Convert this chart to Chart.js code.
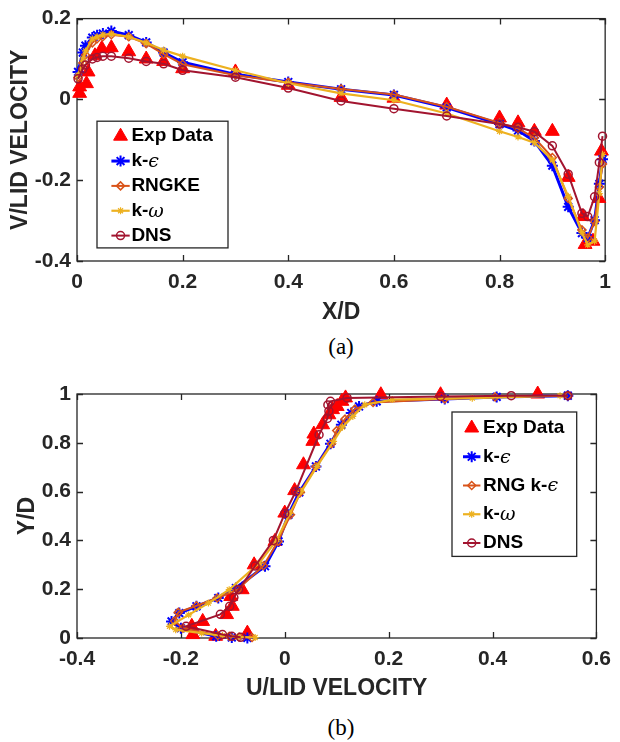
<!DOCTYPE html>
<html>
<head>
<meta charset="utf-8">
<script src="https://cdn.jsdelivr.net/npm/chart.js@4.4.1/dist/chart.umd.min.js"></script>
<style>
  body { margin: 0; background: #fff; width: 620px; height: 742px; position: relative; overflow: hidden; }
  canvas { position: absolute; left: 0; }
  #chartA { top: 0; }
  #chartB { top: 370px; }
  .cap { position: absolute; left: 77px; width: 528px; text-align: center;
         font: 23px 'Liberation Serif', 'Times New Roman', serif; color: #000; }
</style>
</head>
<body>
<canvas id="chartA" width="620" height="330"></canvas>
<div class="cap" style="top:334px">(a)</div>
<canvas id="chartB" width="620" height="335"></canvas>
<div class="cap" style="top:715px">(b)</div>
<script>
// ---- (a) V velocity along horizontal centreline ----
const namesA = ['Exp Data', 'k-ϵ', 'RNGKE', 'k-ω', 'DNS'];
const xModelA = [0.002, 0.011, 0.016, 0.029, 0.038, 0.049, 0.065, 0.098, 0.131, 0.164, 0.2, 0.3, 0.4,
  0.5, 0.6, 0.7, 0.8, 0.835, 0.866, 0.9, 0.93, 0.956, 0.967, 0.98, 0.989, 0.995];
const kepsA = [0.068, 0.116, 0.133, 0.153, 0.159, 0.163, 0.169, 0.159, 0.141, 0.116, 0.092, 0.062, 0.043,
  0.025, 0.011, -0.02, -0.061, -0.077, -0.103, -0.164, -0.266, -0.331, -0.343, -0.299, -0.209, -0.148];
const rngA = [0.055, 0.09, 0.11, 0.14, 0.15, 0.155, 0.16, 0.155, 0.138, 0.112, 0.087, 0.06, 0.042,
  0.026, 0.012, -0.018, -0.058, -0.072, -0.095, -0.144, -0.245, -0.323, -0.343, -0.302, -0.217, -0.16];
const komegaA = [0.06, 0.1, 0.12, 0.15, 0.155, 0.16, 0.162, 0.155, 0.14, 0.122, 0.107, 0.072, 0.04,
  0.015, -0.002, -0.035, -0.079, -0.093, -0.107, -0.15, -0.24, -0.33, -0.36, -0.351, -0.233, -0.136];
const dnsA = [0.051, 0.075, 0.085, 0.1, 0.104, 0.107, 0.107, 0.102, 0.094, 0.088, 0.072, 0.055, 0.028,
  -0.004, -0.023, -0.041, -0.061, -0.069, -0.08, -0.115, -0.185, -0.282, -0.29, -0.241, -0.156, -0.091];
const xExpA = [0.005, 0.005, 0.018, 0.021, 0.034, 0.047, 0.065, 0.098, 0.131, 0.164, 0.2, 0.3, 0.4,
  0.5, 0.6, 0.7, 0.8, 0.835, 0.866, 0.9, 0.93, 0.958, 0.962, 0.977, 0.988, 0.993];
const expA = [0.015, 0.031, 0.039, 0.068, 0.108, 0.126, 0.128, 0.118, 0.1, 0.094, 0.076, 0.068, 0.035,
  0.005, 0.003, -0.014, -0.046, -0.058, -0.079, -0.079, -0.193, -0.29, -0.359, -0.351, -0.245, -0.128];

// ---- (b) U velocity along vertical centreline ----
const namesB = ['Exp Data', 'k-ϵ', 'RNG k-ϵ', 'k-ω', 'DNS'];
const expB_u = [-0.177, -0.133, -0.072, -0.179, -0.158, -0.112, -0.101, -0.104, -0.082, -0.059, -0.019, 0.0,
  0.019, 0.036, 0.054, 0.056, 0.073, 0.085, 0.092, 0.101, 0.11, 0.117, 0.185, 0.3, 0.487];
const expB_y = [0.014, 0.007, 0.02, 0.048, 0.068, 0.096, 0.13, 0.17, 0.198, 0.3, 0.396, 0.512,
  0.604, 0.71, 0.806, 0.836, 0.874, 0.915, 0.936, 0.949, 0.97, 0.984, 0.997, 0.997, 1.0];
const kepsB_u = [-0.072, -0.102, -0.132, -0.2, -0.218, -0.203, -0.17, -0.128, -0.094, -0.038, -0.012, 0.007,
  0.028, 0.06, 0.088, 0.109, 0.128, 0.143, 0.177, 0.308, 0.408, 0.545];
const kepsB_y = [0.0, 0.002, 0.007, 0.04, 0.068, 0.102, 0.13, 0.164, 0.205, 0.294, 0.396, 0.505,
  0.597, 0.703, 0.796, 0.874, 0.922, 0.949, 0.97, 0.98, 0.988, 0.993];
const rngB_u = [-0.063, -0.088, -0.107, -0.129, -0.196, -0.212, -0.205, -0.17, -0.13, -0.09, -0.041, -0.013,
  0.011, 0.03, 0.06, 0.09, 0.1, 0.116, 0.135, 0.17, 0.308, 0.405, 0.545];
const rngB_y = [0.002, 0.004, 0.007, 0.01, 0.04, 0.07, 0.105, 0.132, 0.164, 0.2, 0.296, 0.396,
  0.505, 0.597, 0.703, 0.796, 0.85, 0.897, 0.938, 0.965, 0.98, 0.988, 0.993];
const komegaB_u = [-0.057, -0.09, -0.12, -0.16, -0.21, -0.222, -0.185, -0.147, -0.107, -0.049, -0.015, 0.01,
  0.032, 0.062, 0.094, 0.111, 0.131, 0.154, 0.207, 0.361, 0.53];
const komegaB_y = [0.002, 0.005, 0.01, 0.02, 0.034, 0.048, 0.095, 0.143, 0.198, 0.307, 0.403, 0.512,
  0.601, 0.703, 0.806, 0.864, 0.908, 0.956, 0.977, 0.983, 0.993];
const dnsB_u = [-0.085, -0.102, -0.12, -0.19, -0.124, -0.106, -0.098, -0.089, -0.057, -0.022, 0.0, 0.021,
  0.066, 0.082, 0.085, 0.083, 0.088, 0.12, 0.3, 0.436, 0.545];
const dnsB_y = [0.003, 0.007, 0.014, 0.048, 0.097, 0.13, 0.166, 0.198, 0.295, 0.4, 0.51, 0.6,
  0.833, 0.9, 0.93, 0.955, 0.97, 0.984, 0.99, 0.993, 0.993];

const AXIS = '#262626';
Chart.defaults.font.family = "'Liberation Sans', Arial, Helvetica, sans-serif";
Chart.defaults.color = AXIS;

const looks = [
  { color: '#FF0000', style: 'triangle', r: 8, pw: 1, lw: 0, fill: '#FF0000', line: false },
  { color: '#0000FF', style: 'star', r: 5.5, pw: 2, lw: 3, fill: 'rgba(0,0,0,0)', line: true },
  { color: '#D95319', style: 'rectRot', r: 4, pw: 1.5, lw: 2, fill: 'rgba(0,0,0,0)', line: true },
  { color: '#EDB120', style: 'star', r: 3.5, pw: 1.2, lw: 2.2, fill: 'rgba(0,0,0,0)', line: true },
  { color: '#A2142F', style: 'circle', r: 4, pw: 1.5, lw: 2, fill: 'rgba(0,0,0,0)', line: true }
];

const zip = (xs, ys) => xs.map((x, i) => ({ x, y: ys[i] }));

function makeDatasets(names, series) {
  return series.map((pts, i) => {
    const s = looks[i];
    return {
      label: names[i],
      data: pts,
      order: series.length - i, // later series drawn on top, like MATLAB
      showLine: s.line,
      tension: 0,
      borderColor: s.color,
      borderWidth: s.lw,
      backgroundColor: s.fill,
      pointStyle: s.style,
      pointRadius: s.r,
      pointBorderWidth: s.pw,
      pointBorderColor: s.color,
      pointBackgroundColor: s.fill,
      clip: false
    };
  });
}

// axes box with inward ticks on all four sides
const boxPlugin = {
  id: 'matBox',
  beforeDatasetsDraw(chart) {
    const { ctx, chartArea: a, scales: { x, y } } = chart;
    ctx.save();
    ctx.strokeStyle = AXIS;
    ctx.lineWidth = 1.3;
    ctx.strokeRect(a.left, a.top, a.right - a.left, a.bottom - a.top);
    ctx.beginPath();
    x.ticks.forEach(t => {
      const px = Math.round(x.getPixelForValue(t.value)) + 0.5;
      ctx.moveTo(px, a.bottom); ctx.lineTo(px, a.bottom - 6);
      ctx.moveTo(px, a.top); ctx.lineTo(px, a.top + 6);
    });
    y.ticks.forEach(t => {
      const py = Math.round(y.getPixelForValue(t.value)) + 0.5;
      ctx.moveTo(a.left, py); ctx.lineTo(a.left + 6, py);
      ctx.moveTo(a.right, py); ctx.lineTo(a.right - 6, py);
    });
    ctx.stroke();
    ctx.restore();
  }
};

// legend drawn inside the plot area, MATLAB style
const legendPlugin = {
  id: 'boxLegend',
  afterDatasetsDraw(chart, args, o) {
    const { ctx, chartArea: a } = chart;
    const bx = a.left + o.x, by = a.top + o.y;
    ctx.save();
    ctx.fillStyle = '#fff';
    ctx.fillRect(bx, by, o.w, o.h);
    ctx.strokeStyle = AXIS;
    ctx.lineWidth = 1.3;
    ctx.strokeRect(bx, by, o.w, o.h);
    chart.data.datasets.forEach((ds, i) => {
      const cy = by + o.first + i * o.row;
      if (ds.showLine) {
        ctx.strokeStyle = ds.borderColor;
        ctx.lineWidth = ds.borderWidth;
        ctx.beginPath();
        ctx.moveTo(bx + o.l0, cy);
        ctx.lineTo(bx + o.l1, cy);
        ctx.stroke();
      }
      ctx.strokeStyle = ds.pointBorderColor;
      ctx.fillStyle = ds.pointBackgroundColor;
      ctx.lineWidth = ds.pointBorderWidth;
      Chart.helpers.drawPoint(ctx, {
        pointStyle: ds.pointStyle, rotation: 0,
        radius: ds.pointRadius, borderWidth: ds.pointBorderWidth
      }, bx + (o.l0 + o.l1) / 2, cy);
      // label text, greek letters in italic
      let tx = bx + o.tx;
      ctx.fillStyle = '#000';
      ctx.textBaseline = 'middle';
      for (const ch of ds.label) {
        const greek = ch === 'ϵ' || ch === 'ω';
        ctx.font = greek ? "italic 19px 'DejaVu Serif', serif" : "bold 19px 'Liberation Sans', Arial, sans-serif";
        ctx.fillText(ch, tx, cy + (greek ? 1 : 0));
        tx += ctx.measureText(ch).width;
      }
    });
    ctx.restore();
  }
};

function axisOptions(min, max, title, isX, titlePad, size) {
  return {
    type: 'linear',
    min, max,
    grid: { display: false, drawTicks: false },
    border: { display: false },
    ticks: {
      stepSize: 0.2, padding: isX ? 9 : 6, color: AXIS, maxRotation: 0, autoSkip: false,
      font: { size: 21, weight: 'bold' },
      callback: v => String(Math.round(v * 10) / 10)
    },
    title: {
      display: true, text: title, color: AXIS, padding: titlePad,
      font: { size: 23, weight: 'bold' }
    },
    afterFit(s) { if (isX) s.height = size; else s.width = size; }
  };
}

function buildChart(id, datasets, xs, ys, pad, legendBox) {
  return new Chart(document.getElementById(id), {
    type: 'scatter',
    data: { datasets },
    options: {
      responsive: false,
      animation: false,
      layout: { padding: pad, autoPadding: false },
      plugins: {
        legend: { display: false },
        tooltip: { enabled: false },
        boxLegend: legendBox
      },
      scales: { x: xs, y: ys }
    },
    plugins: [boxPlugin, legendPlugin]
  });
}

buildChart('chartA',
  makeDatasets(namesA, [
    zip(xExpA, expA), zip(xModelA, kepsA), zip(xModelA, rngA), zip(xModelA, komegaA), zip(xModelA, dnsA)
  ]),
  axisOptions(0, 1, 'X/D', true, { top: 0, bottom: 0 }, 65),
  axisOptions(-0.4, 0.2, 'V/LID VELOCITY', false, { top: 7, bottom: 0 }, 77),
  { top: 16, right: 14.5, bottom: 4, left: 0 },
  { x: 20, y: 102.6, w: 131, h: 126.7, first: 15, row: 24.85, l0: 14.4, l1: 32.7, tx: 34.4 }
);

buildChart('chartB',
  makeDatasets(namesB, [
    zip(expB_u, expB_y), zip(kepsB_u, kepsB_y), zip(rngB_u, rngB_y), zip(komegaB_u, komegaB_y), zip(dnsB_u, dnsB_y)
  ]),
  axisOptions(-0.4, 0.6, 'U/LID VELOCITY', true, { top: 0, bottom: 0 }, 64),
  axisOptions(0, 1, 'Y/D', false, { top: 14, bottom: 0 }, 77),
  { top: 24, right: 14.5, bottom: 3, left: 0 },
  { x: 375, y: 18, w: 124.7, h: 144.4, first: 16, row: 28.75, l0: 11, l1: 28.4, tx: 31 }
);
</script>
</body>
</html>
